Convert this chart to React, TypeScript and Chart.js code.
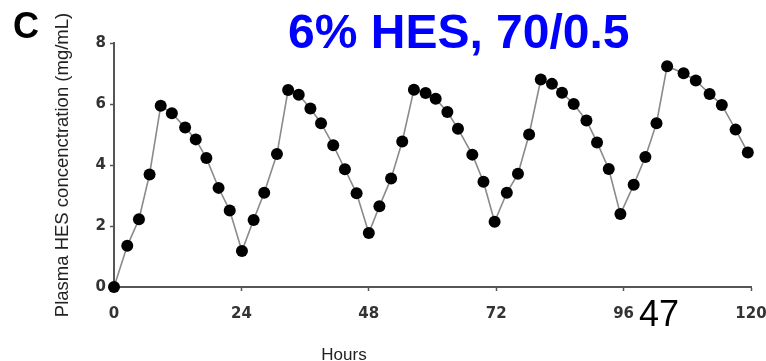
import React, { useEffect, useRef } from "react";
import { Chart, registerables } from "chart.js";

Chart.register(...registerables);

// ---- data ----
const hours = [
  0, 2.5, 4.7, 6.7, 8.8, 10.9, 13.4, 15.4, 17.4, 19.7, 21.8, 24.1,
  26.3, 28.3, 30.7, 32.8,
  34.8, 37.0, 39.0, 41.3, 43.5, 45.7, 48.0,
  50.0, 52.2, 54.3, 56.5,
  58.7, 60.6, 62.8, 64.8, 67.5, 69.6, 71.7,
  74.0, 76.1, 78.2, 80.4,
  82.5, 84.4, 86.6, 89.0, 91.0, 93.2, 95.4,
  97.9, 100.1, 102.2, 104.2,
  107.3, 109.6, 112.2, 114.5, 117.1, 119.4,
];
const concentration = [
  0, 1.35, 2.22, 3.69, 5.94, 5.7, 5.23, 4.84, 4.23, 3.25, 2.51, 1.18,
  2.2, 3.09, 4.36, 6.46,
  6.3, 5.85, 5.37, 4.65, 3.86, 3.07, 1.77,
  2.65, 3.56, 4.77, 6.47,
  6.36, 6.17, 5.74, 5.19, 4.34, 3.45, 2.14,
  3.09, 3.71, 5.0, 6.8,
  6.66, 6.37, 6.0, 5.46, 4.74, 3.87, 2.39,
  3.35, 4.26, 5.37, 7.24,
  7.01, 6.77, 6.33, 5.97, 5.16, 4.41,
];
const xTicks = [0, 24, 48, 72, 96, 120];
const yTicks = [0, 2, 4, 6, 8];

const panelLetter = "C";
const chartTitle = "6% HES, 70/0.5";
const xTitle = "Hours";
const yTitle = "Plasma HES concenctration (mg/mL)";
const pageNumber = "47";

const AXIS = "#555555";
const TEXT = "#333333";
const SANS = '"Liberation Sans", Arial, sans-serif';
const TICKFONT = '"DejaVu Sans", sans-serif';

const overlay = {
  id: "overlay",
  afterDraw(chart: any) {
    const ctx = chart.ctx as CanvasRenderingContext2D;
    ctx.save();
    ctx.textAlign = "left";
    ctx.textBaseline = "alphabetic";
    ctx.fillStyle = "#000000";
    ctx.font = `bold 36px ${SANS}`;
    ctx.fillText(panelLetter, 13, 38);

    ctx.fillStyle = "#0000ff";
    ctx.font = `bold 48px ${SANS}`;
    ctx.fillText(chartTitle, 288, 48);

    ctx.fillStyle = "#000000";
    ctx.font = `36px ${SANS}`;
    ctx.fillText(pageNumber, 639, 326);

    ctx.fillStyle = "#222222";
    ctx.font = `17px ${SANS}`;
    ctx.textAlign = "center";
    ctx.fillText(xTitle, 344, 360);
    ctx.restore();
  },
};

export default function App() {
  const canvasRef = useRef<HTMLCanvasElement | null>(null);

  useEffect(() => {
    document.body.style.margin = "0";
    const canvas = canvasRef.current;
    if (!canvas) return;
    const chart = new Chart(canvas, {
      type: "line",
      data: {
        datasets: [
          {
            data: hours.map((h, i) => ({ x: h, y: concentration[i] })),
            borderColor: "#8a8a8a",
            borderWidth: 1.6,
            pointRadius: 6,
            pointBackgroundColor: "#000000",
            pointBorderColor: "#000000",
            pointBorderWidth: 0,
            tension: 0,
            fill: false,
            clip: false as any,
          },
        ],
      },
      options: {
        responsive: false,
        animation: false,
        layout: { padding: { top: 43, right: 15, left: 0, bottom: 0 } },
        plugins: {
          legend: { display: false },
          tooltip: { enabled: false },
          title: { display: false },
        },
        scales: {
          x: {
            type: "linear",
            position: "bottom",
            min: 0,
            max: 120,
            afterBuildTicks: (s: any) => {
              s.ticks = xTicks.map((v) => ({ value: v }));
            },
            afterFit: (s: any) => {
              s.height = 74;
              s.paddingLeft = 0;
              s.paddingRight = 0;
            },
            grid: {
              display: true,
              drawOnChartArea: false,
              drawTicks: true,
              tickLength: 4,
              tickColor: AXIS,
              tickWidth: 1.5,
            },
            border: { display: true, color: AXIS, width: 2 },
            ticks: {
              padding: 14,
              color: TEXT,
              maxRotation: 0,
              autoSkip: false,
              font: { family: TICKFONT, size: 15, weight: "bold" },
            },
          },
          y: {
            type: "linear",
            position: "left",
            min: 0,
            max: 8,
            afterBuildTicks: (s: any) => {
              s.ticks = yTicks.map((v) => ({ value: v }));
            },
            afterFit: (s: any) => {
              s.width = 114;
            },
            grid: {
              display: true,
              drawOnChartArea: false,
              drawTicks: true,
              tickLength: 4,
              tickColor: AXIS,
              tickWidth: 1.5,
            },
            border: { display: true, color: AXIS, width: 2 },
            ticks: {
              padding: 4,
              color: TEXT,
              font: { family: TICKFONT, size: 15, weight: "bold" },
            },
            title: {
              display: true,
              text: yTitle,
              color: "#222222",
              font: { family: SANS, size: 18.5 },
              padding: { top: 52, bottom: 0 },
            },
          },
        },
      },
      plugins: [overlay],
    });
    return () => chart.destroy();
  }, []);

  return (
    <div style={{ width: 766, height: 361 }}>
      <canvas ref={canvasRef} width={766} height={361} />
    </div>
  );
}
